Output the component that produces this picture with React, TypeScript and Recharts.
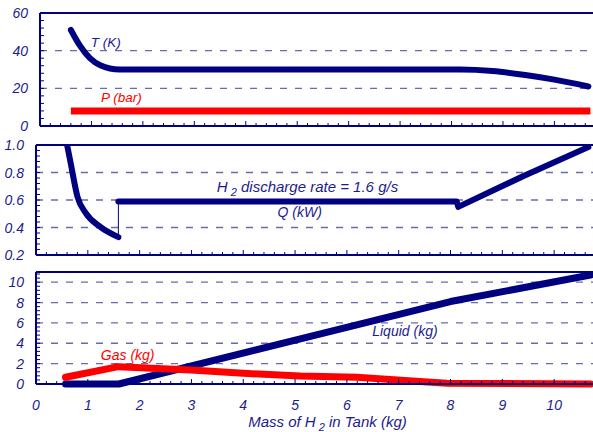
import React from "react";
import { LineChart, Line, XAxis, YAxis, ReferenceLine, ReferenceDot } from "recharts";

const NAVY = "#000080";
const TEXT = "#1c1c8c";
const GRID = "#6a6ab0";
const RED = "#ff0000";
const FONT = "'Liberation Sans', Arial, Helvetica, sans-serif";

// x axis: mass of H2 in tank (kg)
const X_MAX = 10.75;
const xMajor = [0, 1, 2, 3, 4, 5, 6, 7, 8, 9, 10];

// top panel: temperature (K) and pressure (bar)
const tempMass = [0.6, 0.78, 0.97, 1.17, 1.55, 8.17, 8.8, 9.4, 10.0, 10.66];
const tempK = [51, 42.5, 36, 32.3, 30, 30, 29.2, 27.2, 24.6, 21];
const presMass = [0.6, 10.7];
const presBar = [8, 8];
const topMajor = [0, 20, 40, 60];
const topGrid = [20, 40];

// middle panel: heat input Q (kW)
const qDropMass = [0.6, 0.67, 0.8, 0.965, 1.235, 1.59];
const qDropKw = [1.0, 0.867, 0.624, 0.503, 0.406, 0.33];
const qJumpMass = [1.59, 1.59];
const qJumpKw = [0.33, 0.59];
const qMass = [1.59, 8.12, 8.15, 9.41, 10.66];
const qKw = [0.59, 0.59, 0.55, 0.775, 0.985];
const midMajor = [0.2, 0.4, 0.6, 0.8, 1.0];
const midGrid = [0.4, 0.6, 0.8];

// bottom panel: liquid and gas mass (kg)
const liqMass = [0.57, 1.6, 8.0, 10.7];
const liqKg = [0, 0, 8.1, 10.7];
const gasMass = [0.57, 1.59, 2.99, 4.0, 5.1, 6.19, 7.48, 7.93, 10.7];
const gasKg = [0.66, 1.7, 1.38, 1.05, 0.79, 0.66, 0.23, 0.07, 0];
const botMajor = [0, 2, 4, 6, 8, 10];
const botGrid = [2, 4, 6, 8, 10];

const zip = (xs: number[], ys: number[]) => xs.map((m, i) => ({ m, v: ys[i] }));

const steps = (lo: number, hi: number, step: number) => {
  const out: number[] = [];
  for (let i = 0; lo + i * step <= hi + 1e-9; i++) out.push(+(lo + i * step).toFixed(4));
  return out;
};

const xTicks = steps(0, 10.6, 0.2);

const XTick = ({ x, y, payload, showLabel }: any) => {
  const v = payload.value;
  const major = xMajor.some((t) => Math.abs(t - v) < 1e-6);
  return (
    <g>
      <line x1={x} x2={x} y1={y} y2={y - (major ? 5 : 3)} stroke={NAVY} strokeWidth={1} />
      {showLabel && major && (
        <text x={x} y={y + 26} textAnchor="middle" fill={TEXT} fontSize={14} fontStyle="italic" fontFamily={FONT}>
          {v}
        </text>
      )}
    </g>
  );
};

const YTick = ({ x, y, payload, majors, digits, fontSize }: any) => {
  const v = payload.value;
  const major = majors.some((t: number) => Math.abs(t - v) < 1e-6);
  return (
    <g>
      <line x1={x} x2={x + 4} y1={y} y2={y} stroke={NAVY} strokeWidth={1} />
      {major && (
        <text x={x - 12} y={y} dy="0.36em" textAnchor="end" fill={TEXT} fontSize={fontSize} fontStyle="italic" fontFamily={FONT}>
          {v.toFixed(digits)}
        </text>
      )}
    </g>
  );
};

const note = (content: React.ReactNode, color: string, size: number, anchor = "middle") => (p: any) => (
  <text x={p.viewBox.x} y={p.viewBox.y} dy="0.35em" textAnchor={anchor} fill={color} fontSize={size} fontStyle="italic" fontFamily={FONT}>
    {content}
  </text>
);

const gridLines = (vals: number[]) =>
  vals.map((v) => <ReferenceLine key={v} y={v} stroke={GRID} strokeWidth={1.3} strokeDasharray="7 8" />);

const xAxisProps = {
  type: "number" as const,
  dataKey: "m",
  domain: [0, X_MAX],
  ticks: xTicks,
  interval: 0 as const,
  tickSize: 0,
  tickMargin: 0,
  tickLine: false,
  axisLine: { stroke: NAVY, strokeWidth: 2 },
  allowDataOverflow: true,
};

export default function App() {
  return (
    <div style={{ position: "absolute", left: 0, top: 0, width: 593, height: 432, background: "#fff" }}>
      {/* top panel */}
      <div style={{ position: "absolute", left: 0, top: 0 }}>
        <LineChart width={593} height={140} margin={{ top: 13, right: 0, bottom: 0, left: 0 }}>
          <XAxis {...xAxisProps} height={14} tick={<XTick />} />
          <YAxis
            type="number"
            domain={[0, 60]}
            ticks={steps(0, 60, 4)}
            interval={0}
            width={40}
            tickSize={0}
            tickMargin={0}
            tickLine={false}
            axisLine={{ stroke: NAVY, strokeWidth: 2 }}
            tick={<YTick majors={topMajor} digits={0} fontSize={14} />}
          />
          {gridLines(topGrid)}
          <ReferenceLine y={60} stroke={NAVY} strokeWidth={2} />
          <Line data={zip(presMass, presBar)} dataKey="v" type="linear" stroke={RED} strokeWidth={7} dot={false} isAnimationActive={false} />
          <Line data={zip(tempMass, tempK)} dataKey="v" type="monotone" stroke={NAVY} strokeWidth={6} strokeLinecap="round" dot={false} isAnimationActive={false} />
          <ReferenceDot x={1.28} y={44.6} r={0} fill="none" stroke="none" label={note("T (K)", TEXT, 13.5)} />
          <ReferenceDot x={1.58} y={15.4} r={0} fill="none" stroke="none" label={note("P (bar)", RED, 13.5)} />
        </LineChart>
      </div>

      {/* middle panel */}
      <div style={{ position: "absolute", left: 0, top: 132 }}>
        <LineChart width={593} height={136} margin={{ top: 13, right: 0, bottom: 0, left: 0 }}>
          <XAxis {...xAxisProps} height={13} tick={<XTick />} />
          <YAxis
            type="number"
            domain={[0.2, 1.0]}
            ticks={steps(0.2, 1.0, 0.04)}
            interval={0}
            width={36}
            tickSize={0}
            tickMargin={0}
            tickLine={false}
            allowDataOverflow
            axisLine={{ stroke: NAVY, strokeWidth: 2 }}
            tick={<YTick majors={midMajor} digits={1} fontSize={14} />}
          />
          {gridLines(midGrid)}
          <ReferenceLine y={1.0} stroke={NAVY} strokeWidth={2} />
          <Line data={zip(qDropMass, qDropKw)} dataKey="v" type="monotone" stroke={NAVY} strokeWidth={6} strokeLinecap="round" dot={false} isAnimationActive={false} />
          <Line data={zip(qJumpMass, qJumpKw)} dataKey="v" type="linear" stroke={NAVY} strokeWidth={1} dot={false} isAnimationActive={false} />
          <Line data={zip(qMass, qKw)} dataKey="v" type="linear" stroke={NAVY} strokeWidth={6} strokeLinecap="round" strokeLinejoin="round" dot={false} isAnimationActive={false} />
          <ReferenceDot
            x={3.49}
            y={0.695}
            r={0}
            fill="none"
            stroke="none"
            label={note(
              <>
                H<tspan dx={3} dy={4} fontSize={11}>2</tspan>
                <tspan dy={-4}>{"  discharge rate = 1.6 g/s"}</tspan>
              </>,
              TEXT,
              15,
              "start"
            )}
          />
          <ReferenceDot x={5.09} y={0.515} r={0} fill="none" stroke="none" label={note("Q (kW)", TEXT, 14)} />
        </LineChart>
      </div>

      {/* bottom panel */}
      <div style={{ position: "absolute", left: 0, top: 262 }}>
        <LineChart width={593} height={170} margin={{ top: 10, right: 0, bottom: 0, left: 0 }}>
          <XAxis
            {...xAxisProps}
            height={48}
            tick={<XTick showLabel />}
            label={{
              content: (p: any) => (
                <text
                  x={p.viewBox.x + p.viewBox.width / 2 + 13}
                  y={p.viewBox.y + 43}
                  textAnchor="middle"
                  fill={TEXT}
                  fontSize={15}
                  fontStyle="italic"
                  fontFamily={FONT}
                >
                  Mass of H<tspan dx={3} dy={4} fontSize={11}>2</tspan>
                  <tspan dy={-4}>{"  in Tank (kg)"}</tspan>
                </text>
              ),
            }}
          />
          <YAxis
            type="number"
            domain={[0, 11]}
            ticks={steps(0, 10.8, 0.4)}
            interval={0}
            width={36}
            tickSize={0}
            tickMargin={0}
            tickLine={false}
            axisLine={{ stroke: NAVY, strokeWidth: 2 }}
            tick={<YTick majors={botMajor} digits={0} fontSize={14} />}
          />
          {gridLines(botGrid)}
          <ReferenceLine y={11} stroke={NAVY} strokeWidth={2} />
          <Line data={zip(liqMass, liqKg)} dataKey="v" type="linear" stroke={NAVY} strokeWidth={7} strokeLinecap="round" strokeLinejoin="round" dot={false} isAnimationActive={false} />
          <Line data={zip(gasMass, gasKg)} dataKey="v" type="linear" stroke={RED} strokeWidth={7} strokeLinecap="round" strokeLinejoin="round" dot={false} isAnimationActive={false} />
          <ReferenceDot x={7.12} y={5.16} r={0} fill="none" stroke="none" label={note("Liquid (kg)", TEXT, 14)} />
          <ReferenceDot x={1.77} y={2.79} r={0} fill="none" stroke="none" label={note("Gas (kg)", RED, 14)} />
        </LineChart>
      </div>
    </div>
  );
}
